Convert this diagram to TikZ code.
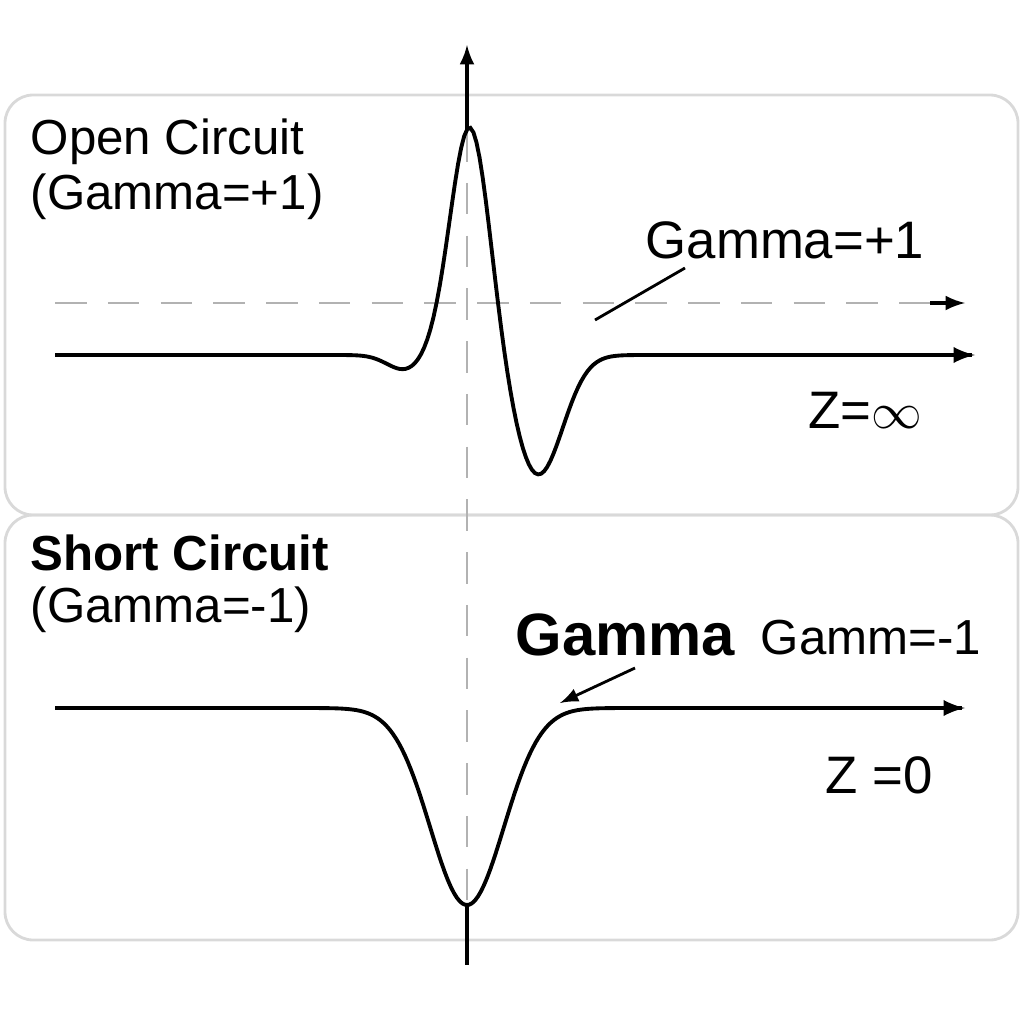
\documentclass[tikz,border=0pt]{standalone}
\usepackage{fontspec}
\setmainfont{Liberation Sans}
\usetikzlibrary{positioning}
\begin{document}
\begin{tikzpicture}[x=0.01cm,y=-0.01cm,
  panel/.style={draw=black!15,rounded corners=8pt,line width=0.8pt},
  guide/.style={draw=black!30,dash pattern=on 9pt off 6pt,line width=0.5pt},
  wave/.style={line width=1.1pt,-latex},
  lbl/.style={anchor=west,inner sep=0pt,font=\fontsize{14}{17}\selectfont}]
\useasboundingbox (0,0) rectangle (1024,1024);
\path[panel] (5,95) rectangle (1018,515);
\path[panel] (5,515) rectangle (1018,940);
% axis
\coordinate (top) at (467,45);
\coordinate (up) at (467,130);
\coordinate (dn) at (467,905);
\coordinate (bot) at (467,965);
\draw[line width=0.9pt,-latex] (up) -- (top);
\draw[guide] (up) -- (dn);
\draw[line width=0.9pt] (dn) -- (bot);
\coordinate (gl) at (55,303);
\coordinate (gr) at (965,303);
\draw[guide] (gl) -- (940,303);
\draw[line width=0.9pt,-latex] (930,303) -- (gr);
% waves
\draw[wave] plot[domain=55:975,samples=300]
  (\x,{355-230*exp(-((\x-470)/28)^2)+120*exp(-((\x-538)/35)^2)+15*exp(-((\x-405)/25)^2)});
\draw[wave] plot[domain=55:965,samples=300]
  (\x,{708+197*exp(-((\x-467)/52)^2)});
% labels
\node[lbl] (open) at (30,142) {Open Circuit};
\node[lbl] (openG) at (30,197) {(Gamma=+1)};
\node[lbl,font=\fontsize{15}{18}\selectfont] (gp) at (645,240) {Gamma=+1};
\node[lbl,font=\fontsize{15}{18}\selectfont] (zinf) at (808,410) {Z=$\infty$};
\node[lbl,font=\bfseries\fontsize{14}{17}\selectfont] (short) at (30,553) {Short Circuit};
\node[lbl] (shortG) at (30,610) {(Gamma=-1)};
\node[lbl,font=\bfseries\fontsize{17}{20}\selectfont] (gbig) at (515,635) {Gamma};
\node[lbl,font=\fontsize{14}{17}\selectfont] (gm) at (760,638) {Gamm=-1};
\node[lbl,font=\fontsize{15}{18}\selectfont] (zzero) at (825,775) {Z =0};
\coordinate (p1) at (685,268);
\coordinate (p2) at (595,320);
\draw[line width=0.8pt] (p1) -- (p2);
\coordinate (q1) at (635,668);
\coordinate (q2) at (560,703);
\draw[line width=0.8pt,-latex] (q1) -- (q2);
\end{tikzpicture}
\end{document}
